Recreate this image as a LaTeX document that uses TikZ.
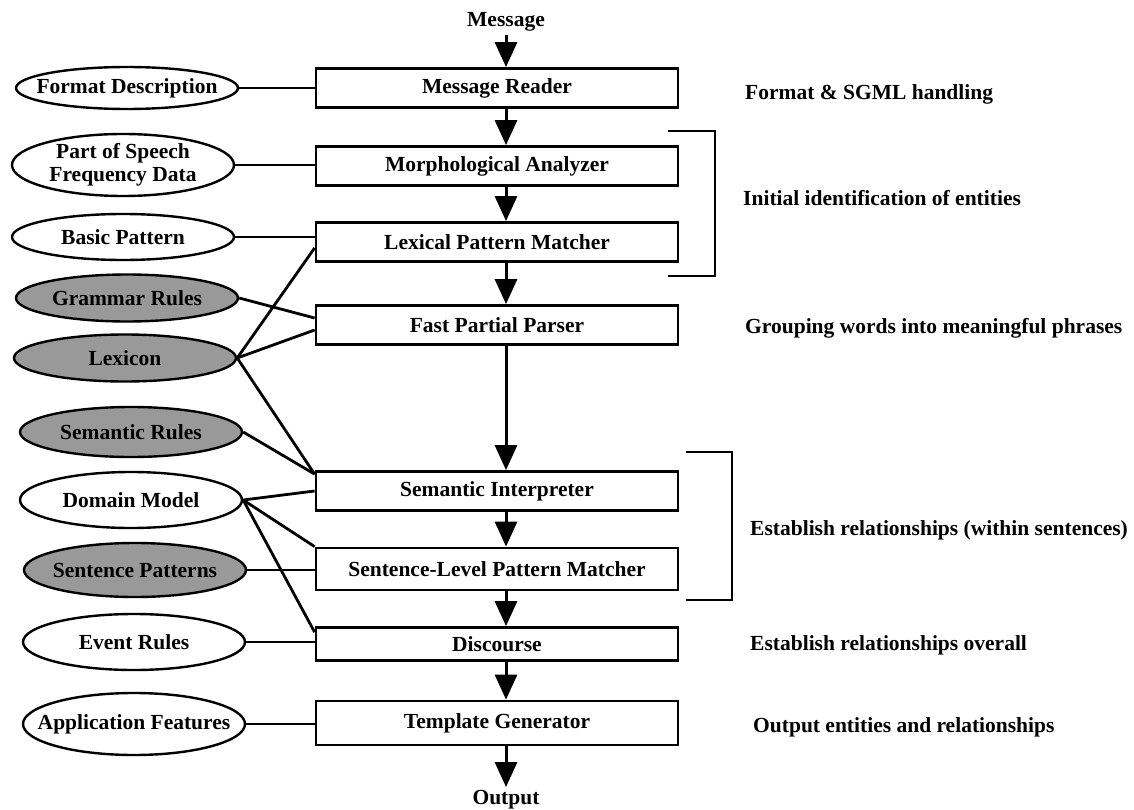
\documentclass[tikz,border=0pt]{standalone}
\usepackage{fontspec}
\setmainfont{Liberation Serif}
\usetikzlibrary{positioning,arrows.meta,shapes.geometric}

\begin{document}
\begin{tikzpicture}[
        x=1pt, y=-1pt,
        font=\fontsize{21.5}{23}\selectfont\bfseries,
        block/.style={rectangle, draw, line width=2.8pt, minimum width=362pt,
            minimum height=39pt, inner sep=0pt},
        oval/.style={ellipse, draw, line width=2.4pt, minimum width=222pt,
            minimum height=50pt, inner sep=0pt},
        dark/.style={oval, fill=black!40},
        line/.style={draw, -{Triangle[length=25pt,width=22pt]}, line width=3pt},
        link/.style={draw, line width=2.8pt},
        note/.style={anchor=base west, inner sep=0pt}
    ]
    \useasboundingbox (0,0) rectangle (1134,810);

    \node (msg) at (506,22) {Message};
    \node [block] (mr) at (497,88) {Message Reader};
    \node [block] (ma) at (497,166) {Morphological Analyzer};
    \node [block] (lpm) at (497,242) {Lexical Pattern Matcher};
    \node [block] (fpp) at (497,325) {Fast Partial Parser};
    \node [block] (si) at (497,491) {Semantic Interpreter};
    \node [block, minimum height=42pt] (slpm) at (497,569) {Sentence-Level Pattern Matcher};
    \node [block, minimum height=33pt] (disc) at (497,644) {Discourse};
    \node [block, minimum height=44pt] (tg) at (497,723) {Template Generator};
    \node (out) at (506,800) {Output};

    \node [oval, minimum height=42pt, label={center:Format Description}] (fd) at (127,88) {};
    \node [oval, minimum height=62pt, label={[align=center]center:Part of Speech\\Frequency Data}] (pos) at (123,165) {};
    \node [oval, minimum height=46pt, label={center:Basic Pattern}] (bp) at (123,237) {};
    \node [dark, minimum height=47pt, label={center:Grammar Rules}] (gr) at (127,298) {};
    \node [dark, minimum height=47pt, label={center:Lexicon}] (lex) at (125,358) {};
    \node [dark, label={center:Semantic Rules}] (sr) at (131,432) {};
    \node [oval, minimum height=56pt, label={center:Domain Model}] (dm) at (131,500) {};
    \node [dark, minimum height=54pt, label={center:Sentence Patterns}] (sp) at (135,570) {};
    \node [oval, minimum height=56pt, label={center:Event Rules}] (er) at (134,642) {};
    \node [oval, minimum height=62pt, label={center:Application Features}] (af) at (134,724) {};

    \node [note] (n1) at (745,100) {Format \& SGML handling};
    \node [note] (n2) at (743,206) {Initial identification of entities};
    \node [note] (n3) at (745,333) {Grouping words into meaningful phrases};
    \node [note] (n4) at (750,535) {Establish relationships (within sentences)};
    \node [note] (n5) at (750,650) {Establish relationships overall};
    \node [note] (n6) at (753,732) {Output entities and relationships};

    % main flow
    \path [line] (msg.south) -- ([xshift=9pt]mr.north);
    \path [line] ([xshift=9pt]mr.south) -- ([xshift=9pt]ma.north);
    \path [line] ([xshift=9pt]ma.south) -- ([xshift=9pt]lpm.north);
    \path [line] ([xshift=9pt]lpm.south) -- ([xshift=9pt]fpp.north);
    \path [line] ([xshift=9pt]fpp.south) -- ([xshift=9pt]si.north);
    \path [line] ([xshift=9pt]si.south) -- ([xshift=9pt]slpm.north);
    \path [line] ([xshift=9pt]slpm.south) -- ([xshift=9pt]disc.north);
    \path [line] ([xshift=9pt]disc.south) -- ([xshift=9pt]tg.north);
    \path [line] ([xshift=9pt]tg.south) -- (out.north);

    % knowledge sources
    \path [link] (fd.east) -- (fd.east -| mr.west);
    \path [link] (pos.east) -- (pos.east -| ma.west);
    \path [link] (bp.east) -- (bp.east -| lpm.west);
    \path [link] (gr.east) -- ([yshift=7pt]fpp.west);
    \path [link] (lex.east) -- ([yshift=-6pt]lpm.west);
    \path [link] (lex.east) -- ([yshift=-5pt]fpp.west);
    \path [link] (lex.east) -- ([yshift=-4pt]si.north west);
    \path [link] (sr.east) -- ([yshift=-4pt]si.north west);
    \path [link] (dm.east) -- (si.west);
    \path [link] (dm.east) -- (slpm.north west);
    \path [link] (dm.east) -- ([yshift=-6pt]disc.north west);
    \path [link] (sp.east) -- (sp.east -| slpm.west);
    \path [link] (er.east) -- (er.east -| disc.west);
    \path [link] (af.east) -- (af.east -| tg.west);

    % brackets
    \draw [line width=2.4pt] (668,131) -- (715,131) -- (715,276) -- (668,276);
    \draw [line width=2.4pt] (686,452) -- (732,452) -- (732,600) -- (686,600);
\end{tikzpicture}
\end{document}
